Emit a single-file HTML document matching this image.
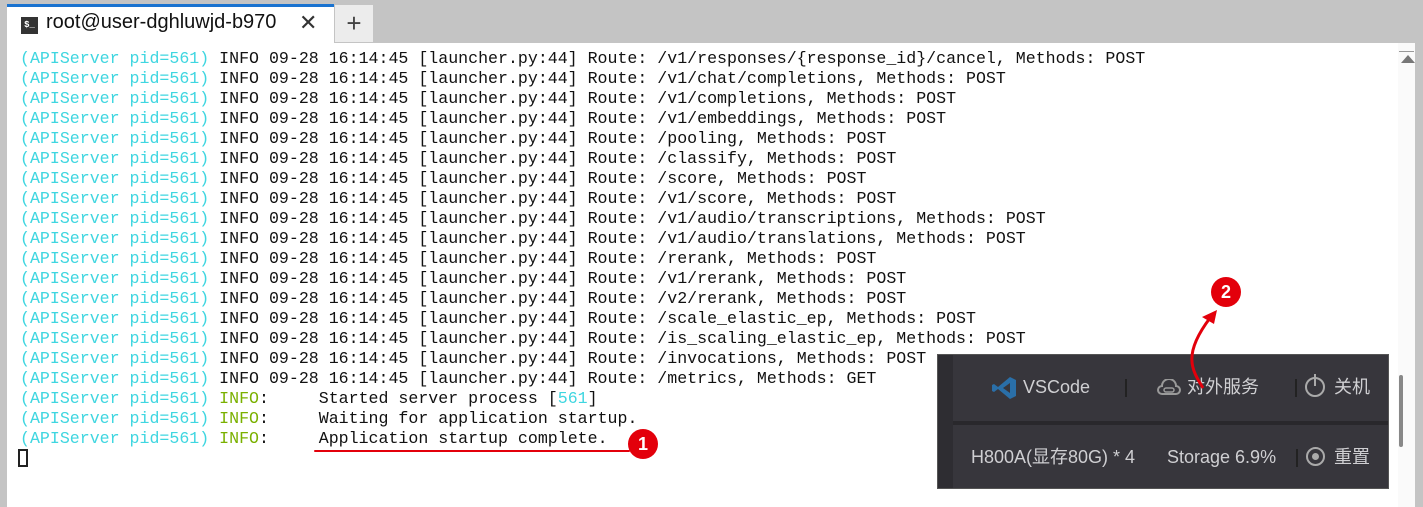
<!DOCTYPE html>
<html><head><meta charset="utf-8"><style>
*{margin:0;padding:0;box-sizing:border-box}
body{width:1423px;height:507px;background:#c4c4c4;position:relative;overflow:hidden;font-family:"Liberation Sans",sans-serif}
.tab{position:absolute;left:7px;top:4px;width:327px;height:39px;background:#fff;border-top:3px solid #1a73d0}
.tab .ic{position:absolute;left:14px;top:10px;width:17px;height:17px;background:#333;color:#fff;font:bold 9px "Liberation Mono",monospace;line-height:17px;text-align:center}
.tab .t{position:absolute;left:39px;top:4px;font-size:20px;color:#111}
.tab .x{position:absolute;left:292px;top:3px;font-size:22px;color:#333}
.plus{position:absolute;left:335px;top:5px;width:38px;height:37px;background:#ececec;font-size:26px;color:#444;text-align:center;line-height:36px}
.term{position:absolute;left:7px;top:43px;width:1391px;height:464px;background:#fff}
.sb{position:absolute;left:1398px;top:43px;width:17px;height:464px;background:#fafafa}
.rb{position:absolute;left:1415px;top:43px;width:8px;height:464px;background:#c4c4c4}
pre{position:absolute;left:20px;top:49px;font:16.6px/20px "Liberation Mono",monospace;color:#111;white-space:pre}
.c{color:#3fd6e0}.g{color:#7ab000}
.panel{position:absolute;left:937px;top:354px;width:452px;height:135px;background:#37363c;border:1px solid #555}
.panel .ls{position:absolute;left:0;top:0;width:15px;height:133px;background:#2e2d32}
.panel .dv{position:absolute;left:15px;top:66px;width:435px;height:4px;background:#29282c}
.p{position:absolute;color:#cfcfd2;font-family:"Liberation Sans","Noto Sans CJK SC",sans-serif;font-size:18px;line-height:22px;height:22px;white-space:nowrap}
.sep{position:absolute;width:2px;height:18px;background:#222}
.red{position:absolute;width:30px;height:30px;border-radius:50%;background:#e3000b;color:#fff;font:bold 18px "Liberation Sans",sans-serif;text-align:center;line-height:30px}
</style></head><body>
<div class="tab"><div class="ic">$_</div><div class="t">root@user-dghluwjd-b970</div><div class="x">✕</div></div>
<div class="plus">+</div>
<div class="term"></div>
<div class="sb"><div style="position:absolute;left:3px;top:12px;width:0;height:0;border-left:7px solid transparent;border-right:7px solid transparent;border-bottom:8px solid #777"></div><div style="position:absolute;left:1px;top:8px;width:15px;height:1px;background:#999"></div><div style="position:absolute;left:1px;top:332px;width:4px;height:72px;background:#888;border-radius:2px"></div></div>
<div class="rb"></div>
<pre><span class="c">(APIServer pid=561)</span> INFO 09-28 16:14:45 [launcher.py:44] Route: /v1/responses/{response_id}/cancel, Methods: POST
<span class="c">(APIServer pid=561)</span> INFO 09-28 16:14:45 [launcher.py:44] Route: /v1/chat/completions, Methods: POST
<span class="c">(APIServer pid=561)</span> INFO 09-28 16:14:45 [launcher.py:44] Route: /v1/completions, Methods: POST
<span class="c">(APIServer pid=561)</span> INFO 09-28 16:14:45 [launcher.py:44] Route: /v1/embeddings, Methods: POST
<span class="c">(APIServer pid=561)</span> INFO 09-28 16:14:45 [launcher.py:44] Route: /pooling, Methods: POST
<span class="c">(APIServer pid=561)</span> INFO 09-28 16:14:45 [launcher.py:44] Route: /classify, Methods: POST
<span class="c">(APIServer pid=561)</span> INFO 09-28 16:14:45 [launcher.py:44] Route: /score, Methods: POST
<span class="c">(APIServer pid=561)</span> INFO 09-28 16:14:45 [launcher.py:44] Route: /v1/score, Methods: POST
<span class="c">(APIServer pid=561)</span> INFO 09-28 16:14:45 [launcher.py:44] Route: /v1/audio/transcriptions, Methods: POST
<span class="c">(APIServer pid=561)</span> INFO 09-28 16:14:45 [launcher.py:44] Route: /v1/audio/translations, Methods: POST
<span class="c">(APIServer pid=561)</span> INFO 09-28 16:14:45 [launcher.py:44] Route: /rerank, Methods: POST
<span class="c">(APIServer pid=561)</span> INFO 09-28 16:14:45 [launcher.py:44] Route: /v1/rerank, Methods: POST
<span class="c">(APIServer pid=561)</span> INFO 09-28 16:14:45 [launcher.py:44] Route: /v2/rerank, Methods: POST
<span class="c">(APIServer pid=561)</span> INFO 09-28 16:14:45 [launcher.py:44] Route: /scale_elastic_ep, Methods: POST
<span class="c">(APIServer pid=561)</span> INFO 09-28 16:14:45 [launcher.py:44] Route: /is_scaling_elastic_ep, Methods: POST
<span class="c">(APIServer pid=561)</span> INFO 09-28 16:14:45 [launcher.py:44] Route: /invocations, Methods: POST
<span class="c">(APIServer pid=561)</span> INFO 09-28 16:14:45 [launcher.py:44] Route: /metrics, Methods: GET
<span class="c">(APIServer pid=561)</span> <span class="g">INFO</span>:     Started server process [<span class="c">561</span>]
<span class="c">(APIServer pid=561)</span> <span class="g">INFO</span>:     Waiting for application startup.
<span class="c">(APIServer pid=561)</span> <span class="g">INFO</span>:     Application startup complete.
</pre>
<div style="position:absolute;left:18px;top:449px;width:10px;height:18px;border:2px solid #222"></div>
<div style="position:absolute;left:314px;top:450px;width:316px;height:2px;background:#e3000b;border-radius:1px"></div>
<div class="red" style="left:628px;top:429px">1</div>
<div class="panel"><div class="ls"></div><div class="dv"></div>
<svg style="position:absolute;left:53px;top:21px" width="26" height="24" viewBox="0 0 26 24"><path d="M19 1 L25 4 V20 L19 23 L7 13 L3 16 L1 15 V9 L3 8 L7 11 Z M19 7 L12 12 L19 17 Z" fill="#2a6fa8"/></svg>
<div class="p" style="left:85px;top:21px">VSCode</div>
<div class="sep" style="left:187px;top:24px"></div>
<svg style="position:absolute;left:219px;top:24px" width="24" height="18" viewBox="0 0 24 18"><path d="M5 15 H19 A4 4 0 0 0 19 7 A7 7 0 0 0 5 7 A4 4 0 0 0 5 15 Z" fill="none" stroke="#999" stroke-width="2"/><rect x="7" y="9" width="10" height="4" rx="2" fill="none" stroke="#999" stroke-width="1.5"/></svg>
<div class="p" style="left:249px;top:21px">对外服务</div>
<div class="sep" style="left:357px;top:24px"></div>
<div style="position:absolute;left:367px;top:22px;width:20px;height:20px;border:2px solid #aaa;border-radius:50%"></div>
<div style="position:absolute;left:376px;top:19px;width:2px;height:12px;background:#aaa"></div>
<div class="p" style="left:396px;top:21px">关机</div>
<div class="p" style="left:33px;top:91px">H800A(显存80G) * 4</div>
<div class="p" style="left:229px;top:91px">Storage 6.9%</div>
<div class="sep" style="left:358px;top:94px"></div>
<div style="position:absolute;left:368px;top:92px;width:19px;height:19px;border:2px solid #aaa;border-radius:50%"></div>
<div style="position:absolute;left:374px;top:98px;width:7px;height:7px;background:#aaa;border-radius:50%"></div>
<div class="p" style="left:396px;top:91px">重置</div>
</div>
<svg style="position:absolute;left:1180px;top:300px" width="50" height="90"><path d="M23 88 C12 70 2 55 30 18" stroke="#e3000b" stroke-width="3" fill="none"/><path d="M37 10 L22 17 L34 24 Z" fill="#e3000b"/></svg>
<div class="red" style="left:1211px;top:277px">2</div>
</body></html>
